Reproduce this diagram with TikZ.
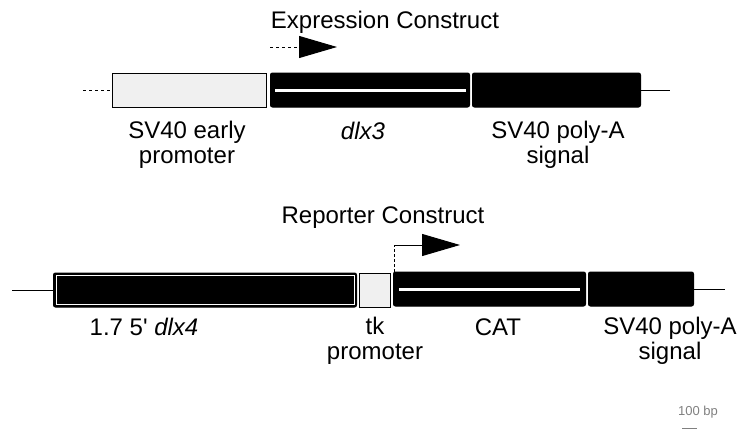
\documentclass[tikz,border=0pt]{standalone}
\usepackage{fontspec}
\setmainfont{Liberation Sans}
\usepackage{tikz}
\usetikzlibrary{positioning,arrows.meta}

\begin{document}
\begin{tikzpicture}[x=1pt,y=-1pt,
  box/.style={draw, line width=1pt, minimum height=34pt, inner sep=0pt, anchor=west},
  promo/.style={box, fill=gray!12},
  gene/.style={box, fill=black, rounded corners=2pt},
  lab/.style={font=\fontsize{24}{25}\selectfont, align=center, inner sep=0pt,
    execute at begin node=\strut, execute at end node=\strut},
  wire/.style={line width=0.8pt},
  tss/.style={line width=1pt, -{Triangle[length=38pt,width=22pt]}}]
\useasboundingbox (0,0) rectangle (745,431);
%%%%%%%%%%%%%%%%%%%%%%%%%%%%%%%%%%%%%%%%%%%%%%%%%%
% expression construct
%%%%%%%%%%%%%%%%%%%%%%%%%%%%%%%%%%%%%%%%%%%%%%%%%%
\begin{scope}
  \node[lab] (etitle) at (385,23.5) {Expression Construct};
  \node[promo, minimum width=154pt] (sv) at (112,90) {};
  \node[gene, minimum width=199pt] (dlx3) at (270,90) {};
  \node[gene, minimum width=168pt] (pa) at (472,90) {};
  \coordinate (el) at (83,90);
  \coordinate (er) at (670,90);
  \coordinate (ea) at (270,47);
  \coordinate (eb) at (337,47);

  \draw[wire, dashed] (el)--(sv.west);
  \draw[wire] (pa.east)--(er);
  \draw[white, line width=3pt] ([xshift=5pt]dlx3.west)--([xshift=-4pt]dlx3.east);
  \draw[tss, dashed] (ea)--(eb);

  \node[lab] (svlab) at (187,146.5) {SV40 early\\promoter};
  \node[lab] (dlxlab) at (363,134) {\itshape dlx3};
  \node[lab] (palab) at (558,146.5) {SV40 poly-A\\signal};
\end{scope}
%%%%%%%%%%%%%%%%%%%%%%%%%%%%%%%%%%%%%%%%%%%%%%%%%%
% reporter construct
%%%%%%%%%%%%%%%%%%%%%%%%%%%%%%%%%%%%%%%%%%%%%%%%%%
\begin{scope}
  \node[lab] (rtitle) at (383,218.5) {Reporter Construct};
  \node[gene, minimum width=303pt] (dlx4) at (53,290) {};
  \node[promo, minimum width=31pt] (tk) at (359,290) {};
  \node[gene, minimum width=192pt] (cat) at (393,289) {};
  \node[gene, minimum width=105pt] (rpa) at (588,289) {};
  \coordinate (rl) at (12,290);
  \coordinate (rr) at (725,289);
  \coordinate (rb) at (460,245);

  \draw[wire] (rl)--(dlx4.west);
  \draw[wire] (rpa.east)--(rr);
  \draw[white, line width=0.7pt] ([shift={(3,3)}]dlx4.north west) rectangle ([shift={(-3,-3)}]dlx4.south east);
  \draw[white, line width=3pt] ([xshift=6pt]cat.west)--([xshift=-6pt]cat.east);
  \draw[line width=0.8pt, densely dashed] ([xshift=1pt]cat.north west)--([xshift=1pt]cat.north west |- rb);
  \draw[tss] ([xshift=1pt]cat.north west |- rb)--(rb);

  \node[lab] (dlx4lab) at (144,330) {1.7 5\textquotesingle\ \textit{dlx4}};
  \node[lab] (tklab) at (375,342.5) {tk\\promoter};
  \node[lab] (catlab) at (498,330) {CAT};
  \node[lab] (rpalab) at (670,342.5) {SV40 poly-A\\signal};
\end{scope}
% scale bar
\node[font=\fontsize{13}{14}\selectfont, text=gray] (bp) at (698,412) {100 bp};
\coordinate (sa) at (682,428);
\coordinate (sb) at (697,428);
\draw[gray, line width=1pt] (sa)--(sb);
\end{tikzpicture}
\end{document}
